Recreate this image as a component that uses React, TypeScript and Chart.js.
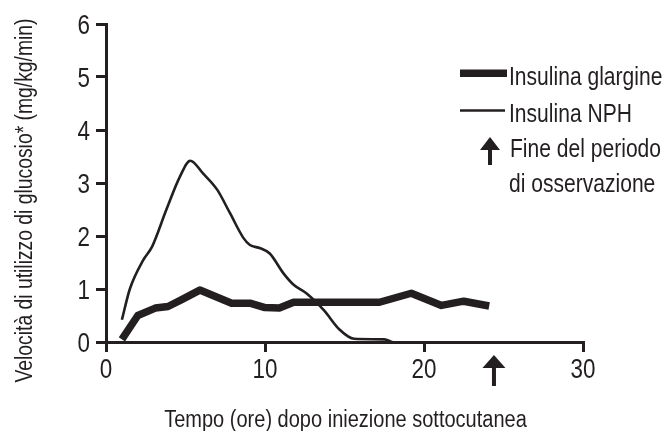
import React, { useEffect, useRef } from "react";
import { Chart, registerables } from "chart.js";

Chart.register(...registerables);

// ---- data ----
const X_TICKS = [0, 10, 20, 30];
const Y_TICKS = [0, 1, 2, 3, 4, 5, 6];

const GLARGINE_X = [1, 2, 3.1, 3.9, 4.7, 5.9, 7.9, 9.1, 10, 10.9, 11.8, 17.2, 19.2, 21.1, 22.5, 24.1];
const GLARGINE_Y = [0.05, 0.5, 0.64, 0.67, 0.79, 0.98, 0.73, 0.73, 0.65, 0.64, 0.75, 0.75, 0.92, 0.69, 0.77, 0.68];

const NPH_X = [1, 1.5, 2.35, 2.9, 3.8, 4.65, 5.3, 6.1, 7, 7.8, 8.65, 9.05, 9.7, 10.3, 11.15, 11.8, 12.6, 13.7, 14.7, 15.6, 17.5, 18];
const NPH_Y = [0.42, 1.0, 1.55, 1.8, 2.5, 3.12, 3.42, 3.18, 2.87, 2.43, 1.96, 1.83, 1.77, 1.67, 1.3, 1.08, 0.92, 0.6, 0.23, 0.06, 0.05, 0.0];

const END_OF_OBSERVATION_X = 24.4;

const SERIES_NAMES = ["Insulina glargine", "Insulina NPH"];
const ARROW_LEGEND = ["Fine del periodo", "di osservazione"];
const X_TITLE = "Tempo (ore) dopo iniezione sottocutanea";
const Y_TITLE = "Velocità di utilizzo di glucosio* (mg/kg/min)";

const INK = "#231f20";
const FONT = "'Liberation Sans', Arial, sans-serif";

function drawArrow(ctx: CanvasRenderingContext2D, x: number, top: number, bottom: number, headW: number, headH: number, shaftW: number) {
  ctx.beginPath();
  ctx.moveTo(x, top);
  ctx.lineTo(x - headW / 2, top + headH);
  ctx.lineTo(x + headW / 2, top + headH);
  ctx.closePath();
  ctx.fill();
  ctx.fillRect(x - shaftW / 2, top + headH - 1, shaftW, bottom - top - headH + 1);
}

function narrowText(
  ctx: CanvasRenderingContext2D,
  text: string,
  x: number,
  y: number,
  size: number,
  scaleX: number,
  align: CanvasTextAlign,
  rotate = 0
) {
  ctx.save();
  ctx.font = `${size}px ${FONT}`;
  ctx.textAlign = align;
  ctx.textBaseline = "alphabetic";
  ctx.translate(x, y);
  if (rotate) ctx.rotate(rotate);
  ctx.scale(scaleX, 1);
  ctx.fillText(text, 0, 0);
  ctx.restore();
}

const overlayPlugin = {
  id: "overlay",
  afterDraw(chart: any) {
    const ctx: CanvasRenderingContext2D = chart.ctx;
    const xs = chart.scales.x;
    const ys = chart.scales.y;
    ctx.save();
    ctx.fillStyle = INK;
    ctx.strokeStyle = INK;

    // tick labels
    X_TICKS.forEach((v) => {
      narrowText(ctx, String(v), xs.getPixelForValue(v), 378, 27, 0.83, "center");
    });
    Y_TICKS.forEach((v) => {
      narrowText(ctx, String(v), 90, ys.getPixelForValue(v) + 9.7, 27, 0.83, "right");
    });

    // legend
    ctx.fillRect(460, 69.5, 47, 7.5);
    ctx.lineWidth = 2.6;
    ctx.beginPath();
    ctx.moveTo(460, 110.5);
    ctx.lineTo(505, 110.5);
    ctx.stroke();
    drawArrow(ctx, 490, 137, 165, 20, 13, 4);

    narrowText(ctx, SERIES_NAMES[0], 509, 85, 26, 0.81, "left");
    narrowText(ctx, SERIES_NAMES[1], 509, 122, 26, 0.81, "left");
    narrowText(ctx, ARROW_LEGEND[0], 510, 157, 26, 0.81, "left");
    narrowText(ctx, ARROW_LEGEND[1], 509, 192, 26, 0.81, "left");

    // end of observation arrow under x axis
    const ax = xs.getPixelForValue(END_OF_OBSERVATION_X);
    drawArrow(ctx, ax, 355, 386, 23, 13, 4);

    // axis titles
    narrowText(ctx, X_TITLE, 345.5, 426.5, 23, 0.87, "center");
    narrowText(ctx, Y_TITLE, 32, 200.5, 23, 0.84, "center", -Math.PI / 2);
    ctx.restore();
  },
};

export default function App() {
  const ref = useRef<HTMLCanvasElement | null>(null);

  useEffect(() => {
    if (!ref.current) return;
    const chart = new Chart(ref.current, {
      type: "line",
      data: {
        datasets: [
          {
            label: SERIES_NAMES[0],
            data: GLARGINE_X.map((x, i) => ({ x, y: GLARGINE_Y[i] })),
            borderColor: INK,
            borderWidth: 7.5,
            pointRadius: 0,
            tension: 0,
            borderCapStyle: "butt",
            borderJoinStyle: "round",
          },
          {
            label: SERIES_NAMES[1],
            data: NPH_X.map((x, i) => ({ x, y: NPH_Y[i] })),
            borderColor: INK,
            borderWidth: 2.6,
            pointRadius: 0,
            cubicInterpolationMode: "monotone",
            borderJoinStyle: "round",
          },
        ],
      },
      options: {
        responsive: false,
        animation: false,
        events: [],
        layout: { padding: { left: 0, top: 24, right: 89, bottom: 0 } },
        plugins: { legend: { display: false }, tooltip: { enabled: false } },
        scales: {
          x: {
            type: "linear",
            min: 0,
            max: 30,
            afterFit: (s: any) => {
              s.height = 89;
            },
            afterBuildTicks: (s: any) => {
              s.ticks = X_TICKS.map((v) => ({ value: v }));
            },
            grid: { drawOnChartArea: false, drawTicks: true, tickLength: 10, tickWidth: 3, tickColor: INK, lineWidth: 3, color: INK },
            border: { display: true, width: 3, color: INK },
            ticks: { display: false },
          },
          y: {
            type: "linear",
            min: 0,
            max: 6,
            afterFit: (s: any) => {
              s.width = 106;
            },
            afterBuildTicks: (s: any) => {
              s.ticks = Y_TICKS.map((v) => ({ value: v }));
            },
            grid: { drawOnChartArea: false, drawTicks: true, tickLength: 10, tickWidth: 3, tickColor: INK, lineWidth: 3, color: INK },
            border: { display: true, width: 3, color: INK },
            ticks: { display: false },
          },
        },
      },
      plugins: [overlayPlugin],
    } as any);
    return () => chart.destroy();
  }, []);

  return (
    <div style={{ position: "absolute", left: 0, top: 0, width: 672, height: 431, background: "#fff" }}>
      <canvas ref={ref} width={672} height={431} style={{ width: 672, height: 431, display: "block" }} />
    </div>
  );
}
